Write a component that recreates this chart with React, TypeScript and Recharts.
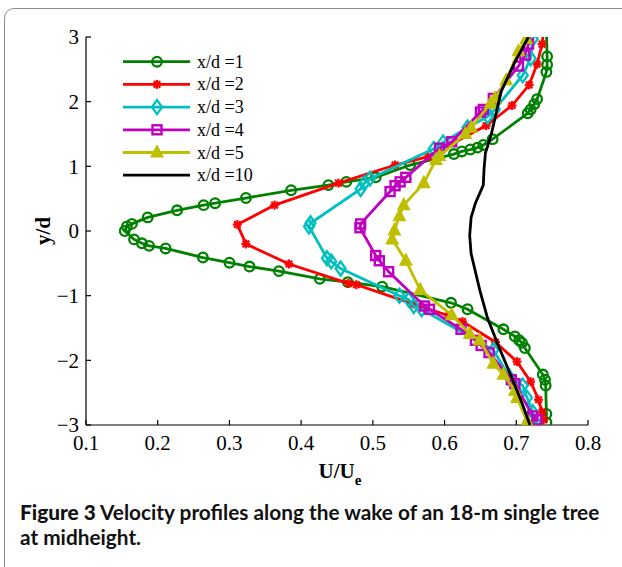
import { ScatterChart, Scatter, XAxis, YAxis, Legend, Label } from 'recharts';

const uTicks = [0.1, 0.2, 0.3, 0.4, 0.5, 0.6, 0.7, 0.8];
const yTicks = [-3, -2, -1, 0, 1, 2, 3];

// x/d = 1
const wake1 = [
  { u: 0.742, y: 3.1 }, { u: 0.743, y: 2.7 }, { u: 0.743, y: 2.57 }, { u: 0.742, y: 2.46 },
  { u: 0.729, y: 2.04 }, { u: 0.725, y: 1.96 }, { u: 0.72, y: 1.88 }, { u: 0.716, y: 1.82 },
  { u: 0.667, y: 1.42 }, { u: 0.654, y: 1.33 }, { u: 0.646, y: 1.29 }, { u: 0.636, y: 1.26 },
  { u: 0.624, y: 1.23 }, { u: 0.613, y: 1.19 }, { u: 0.552, y: 1.02 }, { u: 0.504, y: 0.83 },
  { u: 0.463, y: 0.76 }, { u: 0.438, y: 0.71 }, { u: 0.386, y: 0.63 }, { u: 0.323, y: 0.51 },
  { u: 0.28, y: 0.43 }, { u: 0.264, y: 0.4 }, { u: 0.227, y: 0.32 }, { u: 0.186, y: 0.21 },
  { u: 0.164, y: 0.11 }, { u: 0.157, y: 0.07 }, { u: 0.154, y: 0.0 }, { u: 0.167, y: -0.13 },
  { u: 0.178, y: -0.19 }, { u: 0.188, y: -0.23 }, { u: 0.211, y: -0.27 }, { u: 0.263, y: -0.41 },
  { u: 0.3, y: -0.49 }, { u: 0.328, y: -0.55 }, { u: 0.369, y: -0.62 }, { u: 0.426, y: -0.74 },
  { u: 0.465, y: -0.79 }, { u: 0.513, y: -0.86 }, { u: 0.609, y: -1.11 }, { u: 0.632, y: -1.21 },
  { u: 0.682, y: -1.52 }, { u: 0.698, y: -1.63 }, { u: 0.704, y: -1.69 }, { u: 0.708, y: -1.73 },
  { u: 0.712, y: -1.81 }, { u: 0.737, y: -2.22 }, { u: 0.74, y: -2.3 }, { u: 0.741, y: -2.39 },
  { u: 0.742, y: -2.83 }, { u: 0.742, y: -2.96 },
];

// x/d = 2
const wake2 = [
  { u: 0.738, y: 3.1 }, { u: 0.736, y: 2.89 }, { u: 0.729, y: 2.58 }, { u: 0.718, y: 2.26 },
  { u: 0.694, y: 1.94 }, { u: 0.658, y: 1.63 }, { u: 0.577, y: 1.15 }, { u: 0.531, y: 1.02 },
  { u: 0.452, y: 0.74 }, { u: 0.363, y: 0.4 }, { u: 0.311, y: 0.1 }, { u: 0.323, y: -0.2 },
  { u: 0.383, y: -0.51 }, { u: 0.466, y: -0.81 }, { u: 0.477, y: -0.83 }, { u: 0.557, y: -1.13 },
  { u: 0.606, y: -1.31 }, { u: 0.625, y: -1.4 }, { u: 0.671, y: -1.72 }, { u: 0.701, y: -2.02 },
  { u: 0.72, y: -2.33 }, { u: 0.731, y: -2.61 }, { u: 0.736, y: -2.8 }, { u: 0.738, y: -2.92 },
];

// x/d = 3
const wake3 = [
  { u: 0.724, y: 3.1 }, { u: 0.723, y: 2.97 }, { u: 0.72, y: 2.67 }, { u: 0.709, y: 2.41 },
  { u: 0.67, y: 1.88 }, { u: 0.66, y: 1.77 }, { u: 0.632, y: 1.6 }, { u: 0.598, y: 1.37 },
  { u: 0.585, y: 1.27 }, { u: 0.496, y: 0.81 }, { u: 0.488, y: 0.74 }, { u: 0.483, y: 0.65 },
  { u: 0.413, y: 0.12 }, { u: 0.411, y: 0.07 }, { u: 0.436, y: -0.42 }, { u: 0.442, y: -0.47 },
  { u: 0.455, y: -0.58 }, { u: 0.537, y: -1.0 }, { u: 0.55, y: -1.06 }, { u: 0.557, y: -1.16 },
  { u: 0.568, y: -1.21 }, { u: 0.668, y: -1.84 }, { u: 0.69, y: -2.25 }, { u: 0.709, y: -2.39 },
  { u: 0.715, y: -2.58 }, { u: 0.723, y: -2.8 }, { u: 0.729, y: -3.0 },
];

// x/d = 4
const wake4 = [
  { u: 0.72, y: 3.1 }, { u: 0.717, y: 2.89 }, { u: 0.712, y: 2.72 }, { u: 0.703, y: 2.55 },
  { u: 0.668, y: 2.05 }, { u: 0.654, y: 1.88 }, { u: 0.65, y: 1.84 }, { u: 0.61, y: 1.38 },
  { u: 0.593, y: 1.28 }, { u: 0.546, y: 0.83 }, { u: 0.538, y: 0.76 }, { u: 0.531, y: 0.7 },
  { u: 0.524, y: 0.61 }, { u: 0.483, y: 0.11 }, { u: 0.482, y: 0.05 }, { u: 0.504, y: -0.38 },
  { u: 0.509, y: -0.46 }, { u: 0.522, y: -0.63 }, { u: 0.572, y: -1.16 }, { u: 0.579, y: -1.21 },
  { u: 0.623, y: -1.52 }, { u: 0.643, y: -1.69 }, { u: 0.651, y: -1.77 }, { u: 0.662, y: -1.88 },
  { u: 0.693, y: -2.3 }, { u: 0.698, y: -2.36 }, { u: 0.723, y: -2.86 }, { u: 0.729, y: -2.92 },
];

// x/d = 5
const wake5 = [
  { u: 0.714, y: 2.97 }, { u: 0.703, y: 2.78 }, { u: 0.686, y: 2.33 }, { u: 0.67, y: 2.05 },
  { u: 0.664, y: 1.97 }, { u: 0.637, y: 1.6 }, { u: 0.629, y: 1.5 }, { u: 0.593, y: 1.16 },
  { u: 0.588, y: 1.1 }, { u: 0.571, y: 0.74 }, { u: 0.543, y: 0.4 }, { u: 0.537, y: 0.23 },
  { u: 0.53, y: 0.01 }, { u: 0.527, y: -0.13 }, { u: 0.546, y: -0.46 }, { u: 0.566, y: -0.91 },
  { u: 0.61, y: -1.3 }, { u: 0.635, y: -1.59 }, { u: 0.649, y: -1.69 }, { u: 0.668, y: -2.05 },
  { u: 0.682, y: -2.22 }, { u: 0.698, y: -2.47 }, { u: 0.701, y: -2.58 }, { u: 0.715, y: -2.94 },
];

// x/d = 10 (line only)
const wake10 = [
  { u: 0.717, y: 3.0 }, { u: 0.698, y: 2.61 }, { u: 0.679, y: 2.16 }, { u: 0.665, y: 1.49 },
  { u: 0.657, y: 1.21 }, { u: 0.655, y: 0.95 }, { u: 0.654, y: 0.71 }, { u: 0.643, y: 0.43 },
  { u: 0.637, y: 0.21 }, { u: 0.635, y: -0.07 }, { u: 0.637, y: -0.35 }, { u: 0.649, y: -0.91 },
  { u: 0.66, y: -1.35 }, { u: 0.676, y: -1.8 }, { u: 0.693, y: -2.25 }, { u: 0.709, y: -2.69 },
  { u: 0.719, y: -3.0 },
];

const series = [
  { name: 'x/d =1', color: '#008000', marker: 'circle', data: wake1 },
  { name: 'x/d =2', color: '#ff0000', marker: 'star', data: wake2 },
  { name: 'x/d =3', color: '#00bfbf', marker: 'diamond', data: wake3 },
  { name: 'x/d =4', color: '#bf00bf', marker: 'square', data: wake4 },
  { name: 'x/d =5', color: '#bfbf00', marker: 'triangle', data: wake5 },
  { name: 'x/d =10', color: '#000000', marker: 'none', data: wake10 },
];

const serif = 'Liberation Serif, DejaVu Serif, serif';

function Marker({ kind, cx, cy, color }: { kind: string; cx: number; cy: number; color: string }) {
  if (cx == null || cy == null) return <g />;
  switch (kind) {
    case 'circle':
      return <circle cx={cx} cy={cy} r={4.8} fill="none" stroke={color} strokeWidth={2.3} />;
    case 'star':
      return (
        <g stroke={color} strokeWidth={2.2}>
          <line x1={cx - 4.5} y1={cy} x2={cx + 4.5} y2={cy} />
          <line x1={cx} y1={cy - 4.5} x2={cx} y2={cy + 4.5} />
          <line x1={cx - 3.3} y1={cy - 3.3} x2={cx + 3.3} y2={cy + 3.3} />
          <line x1={cx - 3.3} y1={cy + 3.3} x2={cx + 3.3} y2={cy - 3.3} />
        </g>
      );
    case 'diamond':
      return (
        <path
          d={`M${cx},${cy - 7} L${cx + 5},${cy} L${cx},${cy + 7} L${cx - 5},${cy} Z`}
          fill="none" stroke={color} strokeWidth={2.3}
        />
      );
    case 'square':
      return <rect x={cx - 4.5} y={cy - 4.5} width={9} height={9} fill="none" stroke={color} strokeWidth={2.4} />;
    case 'triangle':
      return (
        <path d={`M${cx},${cy - 7} L${cx + 6},${cy + 4.5} L${cx - 6},${cy + 4.5} Z`} fill={color} stroke={color} strokeWidth={1.2} />
      );
    default:
      return <g />;
  }
}

function WakeLegend() {
  return (
    <svg width={160} height={140}>
      {series.map((s, i) => {
        const y = 11.7 + i * 22.7;
        return (
          <g key={s.name}>
            <line x1={5} y1={y} x2={72} y2={y} stroke={s.color} strokeWidth={2.8} />
            <Marker kind={s.marker} cx={39} cy={y} color={s.color} />
            <text x={79} y={y} dominantBaseline="central" style={{ fontFamily: serif }} fontSize={18} fill="#000">
              {s.name}
            </text>
          </g>
        );
      })}
    </svg>
  );
}

const fmtY = (v: number) => (v < 0 ? '\u2212' + Math.abs(v) : String(v));

export default function App() {
  return (
    <div style={{ position: 'absolute', left: 0, top: 0, width: 622, height: 567, overflow: 'hidden', background: '#fff', fontFamily: serif }}>
      <div
        style={{
          position: 'absolute', left: 4, top: 8, width: 700, height: 700,
          border: '1.5px solid #8c8c8c', borderRadius: 10, boxSizing: 'border-box',
        }}
      />
      <div style={{ position: 'absolute', left: 0, top: 0 }}>
        <ScatterChart width={622} height={500} margin={{ top: 37, right: 34, left: 0, bottom: 35 }} style={{ fontFamily: serif }}>
          <XAxis
            type="number" dataKey="u" domain={[0.1, 0.8]} ticks={uTicks} allowDataOverflow
            height={40} tickSize={-5} tickMargin={15} stroke="#000" strokeWidth={1.2}
            tickFormatter={(v: number) => v.toFixed(1)}
            tick={{ fontSize: 21, fill: '#000', style: { fontFamily: serif } }}
          >
            <Label
              content={({ viewBox }: any) => (
                <text x={viewBox.x + viewBox.width / 2 + 3} y={viewBox.y + 53} textAnchor="middle"
                  style={{ fontFamily: serif }} fontSize={21} fontWeight="bold" fill="#000">
                  U/U<tspan dy={7} fontSize={15}>e</tspan>
                </text>
              )}
            />
          </XAxis>
          <XAxis
            xAxisId="top" orientation="top" type="number" domain={[0.1, 0.8]} ticks={uTicks} allowDataOverflow
            height={0} tickSize={-5} tick={false} stroke="#000" strokeWidth={1.2}
          />
          <YAxis
            type="number" dataKey="y" domain={[-3, 3]} ticks={yTicks} allowDataOverflow
            width={86} tickSize={-5} tickMargin={12} stroke="#000" strokeWidth={1.2}
            tickFormatter={fmtY}
            tick={{ fontSize: 21, fill: '#000', style: { fontFamily: serif } }}
          >
            <Label
              content={({ viewBox }: any) => {
                const cx = 43;
                const cy = viewBox.y + viewBox.height / 2;
                return (
                  <text x={cx} y={cy} transform={`rotate(-90 ${cx} ${cy})`} textAnchor="middle"
                    dominantBaseline="central" style={{ fontFamily: serif }} fontSize={21} fontWeight="bold" fill="#000">
                    y/d
                  </text>
                );
              }}
            />
          </YAxis>
          <YAxis
            yAxisId="right" orientation="right" type="number" domain={[-3, 3]} ticks={yTicks} allowDataOverflow
            width={0} tickSize={-5} tick={false} stroke="#000" strokeWidth={1.2}
          />
          <Legend
            layout="vertical" align="center" verticalAlign="middle"
            wrapperStyle={{ top: 50, left: 118, width: 160, height: 140 }}
            content={() => <WakeLegend />}
          />
          {series.map((s) => (
            <Scatter
              key={s.name}
              name={s.name}
              data={s.data}
              fill={s.color}
              line={{ stroke: s.color, strokeWidth: 2.8 }}
              lineType="joint"
              isAnimationActive={false}
              shape={(p: any) => <Marker kind={s.marker} cx={p.cx} cy={p.cy} color={s.color} />}
            />
          ))}
        </ScatterChart>
      </div>
      <div
        style={{
          position: 'absolute', left: 20, top: 499, width: 600, whiteSpace: 'nowrap',
          fontFamily: 'Lato, "Noto Sans", sans-serif', fontWeight: 700, fontSize: 20.8,
          lineHeight: '25px', color: '#111',
        }}
      >
        <span style={{ fontWeight: 900 }}>Figure 3</span> Velocity profiles along the wake of an 18-m single tree
        <br />
        at midheight.
      </div>
    </div>
  );
}
